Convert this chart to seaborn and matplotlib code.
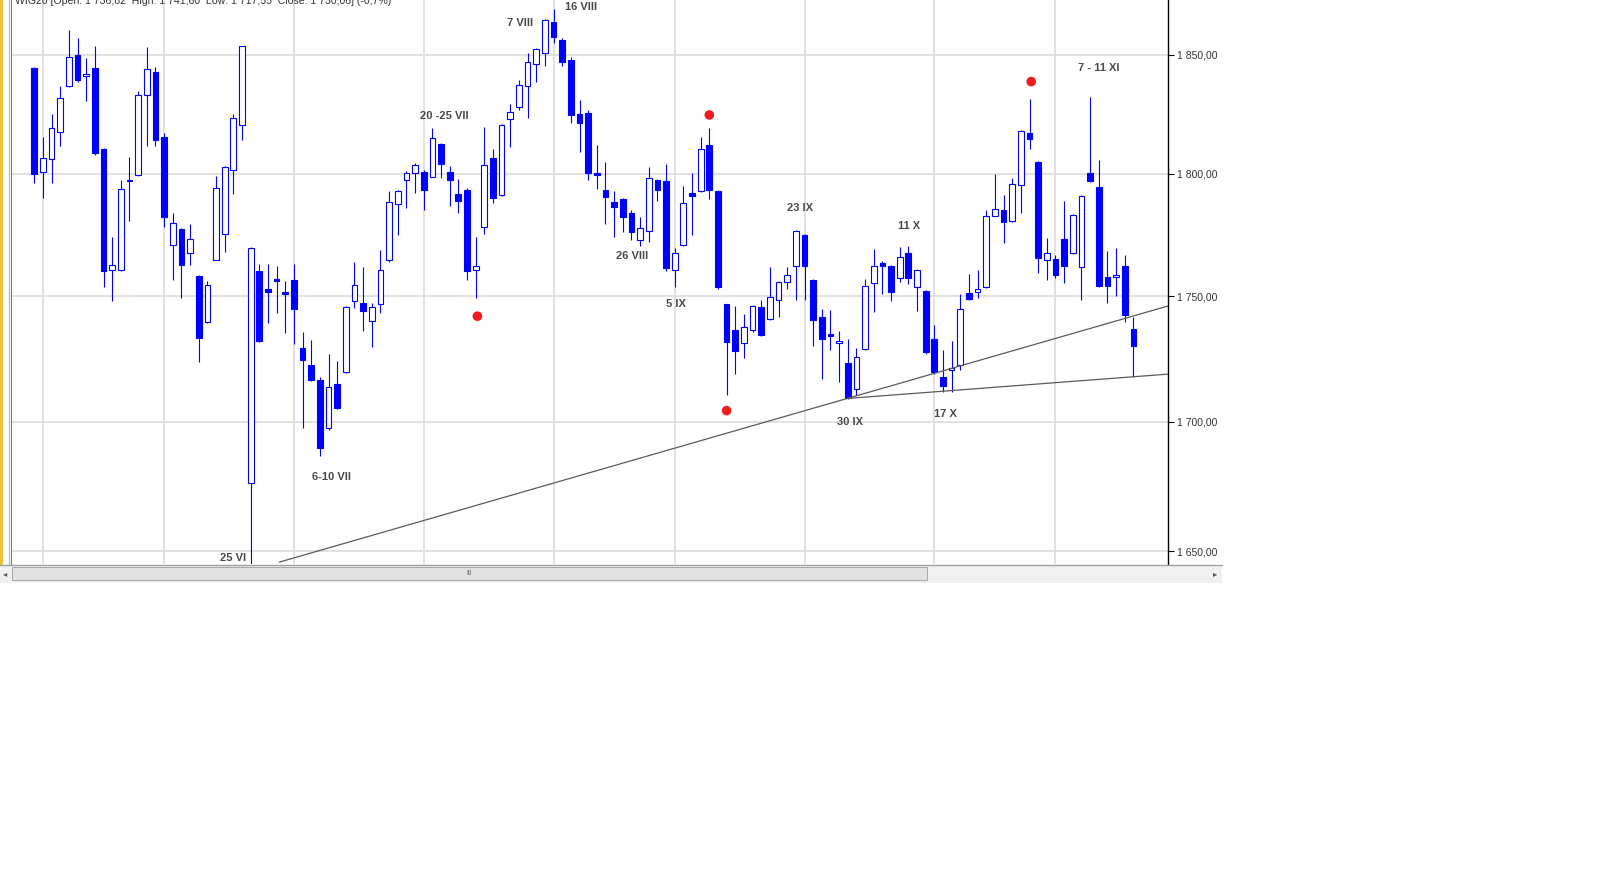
import numpy as np
import pandas as pd
import matplotlib
matplotlib.use("Agg")
import matplotlib.pyplot as plt
import seaborn as sns
from matplotlib.patches import Rectangle
from matplotlib.lines import Line2D
from matplotlib.ticker import NullLocator

# ---------------- data ----------------
opens = [1844.4, 1800.8, 1806.2, 1817.4, 1837.0, 1850.0, 1841.0, 1844.4, 1810.3, 1760.5,
         1760.4, 1797.0, 1799.4, 1833.0, 1842.7, 1815.5, 1770.7, 1777.1, 1767.4, 1758.1,
         1739.6, 1764.8, 1775.1, 1801.7, 1820.3, 1676.2, 1760.2, 1753.0, 1757.1, 1751.8,
         1756.6, 1729.3, 1722.6, 1716.4, 1697.4, 1714.8, 1719.7, 1747.9, 1747.3, 1740.0,
         1746.7, 1764.6, 1787.5, 1797.3, 1800.3, 1800.9, 1798.8, 1812.3, 1800.9, 1791.6,
         1793.4, 1760.5, 1778.2, 1806.7, 1791.1, 1822.9, 1828.0, 1836.7, 1846.0, 1850.8,
         1864.0, 1856.5, 1847.7, 1824.9, 1825.4, 1800.3, 1793.5, 1788.4, 1789.6, 1783.7,
         1772.6, 1776.3, 1797.6, 1797.1, 1760.4, 1770.7, 1791.9, 1792.8, 1812.2, 1793.0,
         1746.7, 1736.5, 1731.0, 1736.2, 1745.5, 1740.9, 1748.6, 1755.8, 1762.0, 1774.8,
         1756.6, 1741.6, 1734.8, 1731.3, 1723.4, 1713.1, 1728.7, 1755.3, 1763.5, 1762.3,
         1757.4, 1767.5, 1753.7, 1752.0, 1732.9, 1717.5, 1720.3, 1722.5, 1751.4, 1751.5,
         1753.7, 1782.8, 1785.2, 1780.7, 1795.2, 1817.0, 1804.8, 1764.8, 1765.2, 1773.2,
         1767.3, 1761.6, 1800.5, 1794.4, 1757.6, 1757.7, 1762.2, 1736.82]
highs = [1844.9, 1815.5, 1824.9, 1836.7, 1860.7, 1857.3, 1848.8, 1853.7, 1810.8, 1774.1,
         1797.3, 1807.1, 1834.9, 1853.3, 1844.9, 1817.1, 1783.7, 1777.5, 1779.2, 1758.5,
         1756.2, 1799.0, 1803.2, 1824.8, 1854.0, 1770.0, 1762.9, 1762.9, 1762.0, 1755.9,
         1762.9, 1735.5, 1732.3, 1717.5, 1726.9, 1724.2, 1746.0, 1763.9, 1761.8, 1747.1,
         1768.5, 1792.7, 1793.5, 1801.1, 1804.6, 1801.5, 1819.3, 1812.8, 1803.3, 1797.7,
         1794.0, 1774.1, 1819.7, 1810.4, 1820.6, 1829.2, 1839.2, 1850.8, 1853.0, 1865.2,
         1869.8, 1857.3, 1849.2, 1830.7, 1826.5, 1812.2, 1804.8, 1792.7, 1790.0, 1784.9,
         1782.3, 1802.9, 1798.0, 1804.1, 1769.5, 1794.9, 1800.2, 1815.5, 1819.3, 1793.5,
         1747.0, 1746.0, 1742.8, 1746.5, 1748.5, 1761.8, 1756.0, 1761.8, 1777.0, 1775.2,
         1757.0, 1744.8, 1744.4, 1735.9, 1732.9, 1729.0, 1756.9, 1769.2, 1764.1, 1762.7,
         1769.9, 1770.2, 1760.8, 1752.4, 1738.2, 1728.5, 1731.9, 1750.8, 1758.9, 1760.4,
         1785.2, 1800.0, 1791.3, 1798.4, 1818.4, 1831.5, 1805.2, 1773.7, 1766.6, 1788.9,
         1783.5, 1791.3, 1832.1, 1805.6, 1768.2, 1769.7, 1766.8, 1741.60]
lows = [1796.4, 1790.0, 1796.4, 1811.8, 1836.2, 1838.5, 1830.6, 1808.0, 1753.7, 1748.2,
        1760.1, 1780.7, 1799.0, 1811.4, 1811.8, 1777.9, 1756.3, 1749.2, 1762.7, 1723.8,
        1739.2, 1764.5, 1768.0, 1791.6, 1814.2, 1630.0, 1731.5, 1739.1, 1743.2, 1735.2,
        1730.7, 1697.4, 1716.2, 1686.8, 1697.0, 1705.2, 1719.3, 1745.3, 1735.9, 1729.7,
        1743.2, 1764.0, 1774.7, 1785.9, 1791.9, 1784.9, 1798.5, 1798.4, 1786.7, 1783.7,
        1756.6, 1749.3, 1775.4, 1787.8, 1790.8, 1811.2, 1826.7, 1823.4, 1838.7, 1845.2,
        1855.0, 1845.2, 1821.1, 1808.9, 1797.6, 1793.9, 1779.3, 1774.1, 1775.9, 1772.6,
        1770.5, 1771.8, 1788.6, 1760.1, 1753.7, 1770.3, 1774.7, 1792.5, 1789.7, 1753.0,
        1710.5, 1718.8, 1725.3, 1735.7, 1734.0, 1740.5, 1741.7, 1753.0, 1748.3, 1748.5,
        1730.0, 1716.9, 1728.2, 1715.6, 1708.8, 1710.5, 1728.4, 1743.5, 1750.8, 1748.2,
        1755.5, 1754.9, 1743.9, 1726.8, 1719.0, 1711.9, 1711.9, 1720.3, 1748.5, 1749.3,
        1753.3, 1782.5, 1771.4, 1780.1, 1783.7, 1810.2, 1759.3, 1756.6, 1757.3, 1755.2,
        1767.0, 1748.4, 1796.7, 1753.6, 1747.1, 1750.0, 1739.4, 1717.55]
closes = [1800.0, 1806.5, 1819.1, 1831.6, 1849.2, 1839.2, 1841.9, 1808.5, 1760.1, 1762.6,
          1793.7, 1797.6, 1833.2, 1844.0, 1814.2, 1782.2, 1779.9, 1762.7, 1773.2, 1733.3,
          1754.5, 1794.1, 1802.9, 1823.2, 1853.7, 1769.5, 1732.1, 1751.8, 1755.9, 1750.7,
          1744.6, 1724.3, 1716.6, 1689.9, 1713.7, 1705.5, 1745.5, 1754.3, 1744.1, 1745.5,
          1760.4, 1788.5, 1793.0, 1800.3, 1803.6, 1793.4, 1815.0, 1804.1, 1797.6, 1788.6,
          1760.1, 1762.0, 1803.6, 1790.1, 1820.3, 1825.8, 1837.2, 1847.2, 1852.6, 1864.8,
          1857.9, 1847.2, 1824.4, 1821.1, 1800.3, 1799.5, 1790.5, 1786.4, 1782.2, 1775.9,
          1777.7, 1798.4, 1793.5, 1761.5, 1767.5, 1787.8, 1790.7, 1810.4, 1793.5, 1753.7,
          1731.4, 1727.9, 1737.5, 1746.0, 1734.3, 1749.6, 1755.6, 1758.6, 1776.5, 1762.3,
          1740.4, 1732.9, 1734.0, 1732.0, 1709.2, 1725.6, 1754.0, 1762.3, 1762.3, 1751.8,
          1766.0, 1757.4, 1760.4, 1727.5, 1719.5, 1714.3, 1721.3, 1744.6, 1749.0, 1752.8,
          1782.8, 1785.5, 1780.1, 1795.6, 1818.0, 1814.7, 1765.5, 1767.5, 1758.4, 1762.2,
          1783.1, 1790.9, 1797.1, 1754.0, 1754.0, 1758.6, 1742.3, 1730.06]

y_ticks = [1650, 1700, 1750, 1800, 1850]
y_tick_labels = ["1 650,00", "1 700,00", "1 750,00", "1 800,00", "1 850,00"]
grid_idx = [1, 15, 30, 45, 60, 74, 89, 104, 118]

label_texts = ["25 VI", "6-10 VII", "20 -25 VII", "7 VIII", "16 VIII", "26 VIII",
               "5 IX", "23 IX", "11 X", "30 IX", "17 X", "7 - 11 XI"]
label_x = [23.0, 34.4, 47.4, 56.1, 63.2, 69.1, 74.15, 88.5, 101.1, 94.26, 105.3, 123.0]
label_y = [1647.5, 1678.6, 1824.0, 1863.5, 1870.6, 1766.3, 1746.7, 1785.9, 1778.7,
           1699.8, 1703.1, 1844.3]

marker_x = [51.2, 78.0, 80.0, 115.2]
marker_y = [1741.9, 1824.6, 1704.4, 1838.7]

trend1_x = [28.3, 131.0]
trend1_y = [1645.9, 1746.0]
trend2_x = [94.0, 131.0]
trend2_y = [1709.2, 1718.8]

header = "WIG20 [Open: 1 736,82  High: 1 741,60  Low: 1 717,55  Close: 1 730,06] (-0,7%)"

# ---------------- styling ----------------
sns.set_theme(style="white")
plt.rcParams["font.family"] = ["Liberation Sans", "DejaVu Sans"]

W, H = 1600, 888
fig = plt.figure(figsize=(16, 8.88), dpi=100)
fig.patch.set_facecolor("white")

px_per_idx = 8.654
idx0_px = 34.3
ax_left_px, ax_right_px = 12.0, 1168.3
ax_top_px, ax_bot_px = 0.0, 564.0
ax = fig.add_axes([ax_left_px / W, 1 - ax_bot_px / H,
                   (ax_right_px - ax_left_px) / W, (ax_bot_px - ax_top_px) / H])
ax.set_facecolor("white")

df = pd.DataFrame({"open": opens, "high": highs, "low": lows, "close": closes})
df["idx"] = np.arange(len(df))
df["up"] = df["close"] >= df["open"]
df["body_lo"] = df[["open", "close"]].min(axis=1)
df["body_h"] = (df["close"] - df["open"]).abs()

ax.set_yscale("log")
ax.set_xlim((ax_left_px - idx0_px) / px_per_idx, (ax_right_px - idx0_px) / px_per_idx)
ax.set_ylim(1645.2, 1873.6)

# grid
for g in grid_idx:
    ax.axvline(g, color="#dcdcdc", lw=1.2, zorder=0)
for t in y_ticks:
    ax.axhline(t, color="#dcdcdc", lw=1.2, zorder=0)

blue = "#0000ff"
# wicks
ax.vlines(df["idx"], df["low"], df["high"], color=blue, lw=0.8, zorder=2)
# bodies
up = df[df["up"]]
dn = df[~df["up"]]
ax.bar(up["idx"], up["body_h"], bottom=up["body_lo"], width=0.66,
       facecolor="white", edgecolor=blue, linewidth=0.8, zorder=3)
ax.bar(dn["idx"], dn["body_h"], bottom=dn["body_lo"], width=0.66,
       facecolor=blue, edgecolor=blue, linewidth=0.8, zorder=3)

# trend lines
sns.lineplot(x=trend1_x, y=trend1_y, ax=ax, color="#5a5a5a", lw=0.9, zorder=4)
sns.lineplot(x=trend2_x, y=trend2_y, ax=ax, color="#5a5a5a", lw=0.9, zorder=4)

# red markers
sns.scatterplot(x=marker_x, y=marker_y, ax=ax, color="#ee1c1c", s=48,
                marker="o", edgecolor="none", zorder=5)

# labels
for t, x, y in zip(label_texts, label_x, label_y):
    ax.text(x, y, t, ha="center", va="center", fontsize=8, fontweight="bold",
            color="#4a4a4a", zorder=6)

# axes
ax.yaxis.tick_right()
ax.set_yticks(y_ticks)
ax.set_yticklabels(y_tick_labels)
ax.yaxis.set_minor_locator(NullLocator())
ax.set_xticks([])
ax.tick_params(axis="y", which="major", direction="out", length=4, width=0.8,
               color="black", labelsize=7.5, pad=2, labelcolor="#333333", right=True)
for s in ["top", "left", "bottom"]:
    ax.spines[s].set_visible(False)
ax.spines["right"].set_color("black")
ax.spines["right"].set_linewidth(1.0)

# header (cut at top)
fig.text(15 / W, 1 - 4.5 / H, header, ha="left", va="baseline", fontsize=7.6, color="#333333")

# left border stripes
fig.add_artist(Rectangle((0, 1 - 565 / H), 2.6 / W, 565 / H, transform=fig.transFigure,
                         facecolor="#e8c23a", edgecolor="none"))
fig.add_artist(Line2D([8.5 / W, 8.5 / W], [1 - 565 / H, 1], transform=fig.transFigure,
                      color="#b4b4b4", lw=0.8))
fig.add_artist(Line2D([11 / W, 11 / W], [1 - 565 / H, 1], transform=fig.transFigure,
                      color="#7a7a7a", lw=0.8))

# scrollbar
fig.add_artist(Rectangle((0, 1 - 583 / H), 1222 / W, 18 / H, transform=fig.transFigure,
                         facecolor="#f0f0f0", edgecolor="none"))
fig.add_artist(Line2D([0, 1222 / W], [1 - 565 / H] * 2, transform=fig.transFigure,
                      color="#a0a0a0", lw=1.0))
fig.add_artist(Rectangle((12 / W, 1 - 580 / H), (927 - 12) / W, 13 / H,
                         transform=fig.transFigure, facecolor="#e2e2e2",
                         edgecolor="#a8a8a8", lw=0.7))
fig.text(3 / W, 1 - 574 / H, "◂", fontsize=6, color="#555555", va="center",
         family=["DejaVu Sans"])
fig.text(1213 / W, 1 - 574 / H, "▸", fontsize=6, color="#555555", va="center",
         family=["DejaVu Sans"])
fig.text(469 / W, 1 - 573.5 / H, "III", fontsize=5, color="#666666", va="center",
         ha="center")

fig.savefig("out.png", dpi=100, facecolor="white")
